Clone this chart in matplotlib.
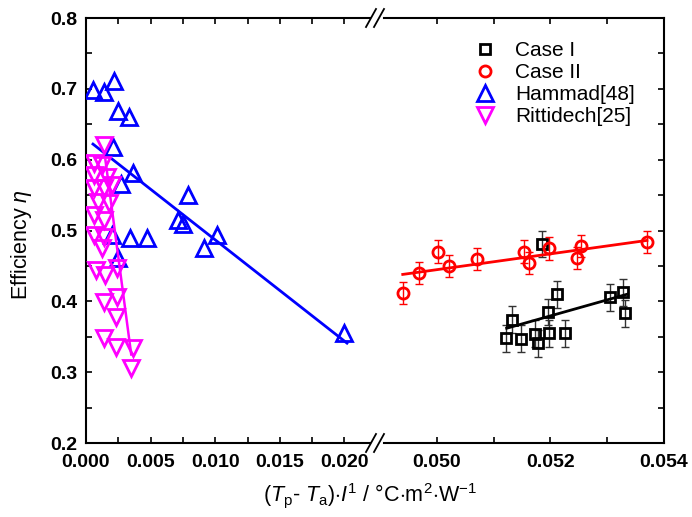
import matplotlib.pyplot as plt
from matplotlib.lines import Line2D

plt.rcParams["font.family"] = ["Liberation Sans", "DejaVu Sans"]
plt.rcParams["mathtext.fontset"] = "custom"
plt.rcParams["mathtext.rm"] = "Liberation Sans"
plt.rcParams["mathtext.it"] = "Liberation Sans:italic"

# Case I (black squares, right part)
case1_x = [0.05186, 0.05121, 0.05133, 0.05149, 0.05172, 0.05179, 0.05195,
           0.05198, 0.05212, 0.05226, 0.05305, 0.05328, 0.05332]
case1_y = [0.481, 0.348, 0.374, 0.347, 0.354, 0.341, 0.385,
           0.355, 0.410, 0.355, 0.406, 0.413, 0.383]
case1_err = [0.019] * len(case1_x)
case1_fit_x = [0.05123, 0.05335]
case1_fit_y = [0.362, 0.410]

# Case II (red circles, right part)
case2_x = [0.04940, 0.04968, 0.05002, 0.05021, 0.05070, 0.05154,
           0.05163, 0.05198, 0.05247, 0.05254, 0.05370]
case2_y = [0.412, 0.440, 0.470, 0.450, 0.460, 0.470,
           0.454, 0.475, 0.461, 0.478, 0.484]
case2_err = [0.016] * len(case2_x)
case2_fit_x = [0.0494, 0.0537]
case2_fit_y = [0.438, 0.486]

# Hammad[48] (blue up triangles, left part)
hammad_x = [0.00054, 0.0014, 0.0022, 0.0025, 0.0033, 0.0021, 0.0036, 0.0027,
            0.0079, 0.0071, 0.0075, 0.0101, 0.0091, 0.0034, 0.0047, 0.0020,
            0.0025, 0.0200]
hammad_y = [0.698, 0.696, 0.711, 0.669, 0.660, 0.618, 0.581, 0.566,
            0.550, 0.515, 0.509, 0.494, 0.475, 0.489, 0.489, 0.494,
            0.461, 0.355]
hammad_fit_x = [0.00054, 0.0202]
hammad_fit_y = [0.622, 0.341]

# Rittidech[25] (magenta down triangles, left part)
ritt_x = [0.0014, 0.0006, 0.0012, 0.0006, 0.0016, 0.0020, 0.0006, 0.0014,
          0.0009, 0.0018, 0.0006, 0.0014, 0.0006, 0.0014, 0.0012,
          0.0008, 0.0015, 0.0024, 0.0014, 0.0024, 0.0023, 0.0014, 0.0023,
          0.0036, 0.0035]
ritt_y = [0.621, 0.595, 0.592, 0.578, 0.575, 0.564, 0.560, 0.560,
          0.540, 0.539, 0.522, 0.515, 0.494, 0.491, 0.475,
          0.444, 0.437, 0.447, 0.399, 0.406, 0.378, 0.348, 0.335,
          0.334, 0.306]
ritt_fit_x = [0.0015, 0.0035]
ritt_fit_y = [0.600, 0.325]

W, H = 692, 517


def fx(px):
    return px / W


def fy(py):
    return 1 - py / H


fig = plt.figure(figsize=(6.92, 5.17), dpi=100)
ax1 = fig.add_axes([fx(86), fy(443), (370 - 86) / W, 425 / H])
ax2 = fig.add_axes([fx(384), fy(443), (664 - 384) / W, 425 / H])

mew = 2.0
ax1.plot(hammad_fit_x, hammad_fit_y, "-", color="#0000ff", lw=2, zorder=2)
h_ham, = ax1.plot(hammad_x, hammad_y, "^", ms=12, mfc="none", mec="#0000ff",
                  mew=mew, ls="none", zorder=3, label="Hammad[48]")
ax1.plot(ritt_fit_x, ritt_fit_y, "-", color="#ff00ff", lw=1.8, zorder=4)
h_rit, = ax1.plot(ritt_x, ritt_y, "v", ms=12, mfc="none", mec="#ff00ff",
                  mew=mew, ls="none", zorder=5, label="Rittidech[25]")

ax2.errorbar(case1_x, case1_y, yerr=case1_err, fmt="none", ecolor="#333333",
             elinewidth=1.0, capsize=3.2, capthick=1.0, zorder=2)
ax2.plot(case1_fit_x, case1_fit_y, "-", color="black", lw=2, zorder=3)
h_c1, = ax2.plot(case1_x, case1_y, "s", ms=7, mfc="none", mec="black",
                 mew=mew, ls="none", zorder=4, label="Case I")
ax2.errorbar(case2_x, case2_y, yerr=case2_err, fmt="none", ecolor="#ff0000",
             elinewidth=1.0, capsize=3.2, capthick=1.0, zorder=5)
ax2.plot(case2_fit_x, case2_fit_y, "-", color="#ff0000", lw=2, zorder=6)
h_c2, = ax2.plot(case2_x, case2_y, "o", ms=8, mfc="none", mec="#ff0000",
                 mew=mew, ls="none", zorder=7, label="Case II")

ax1.set_xlim(0, 0.02198)
ax2.set_xlim(0.04907, 0.054)
for ax in (ax1, ax2):
    ax.set_ylim(0.2, 0.8)
    ax.set_yticks([0.2, 0.3, 0.4, 0.5, 0.6, 0.7, 0.8])
    ax.set_yticks([0.25, 0.35, 0.45, 0.55, 0.65, 0.75], minor=True)
    ax.tick_params(which="both", direction="in", length=4, width=1.2,
                   top=True, labelsize=14)
    for s in ax.spines.values():
        s.set_linewidth(1.5)

ax1.set_xticks([0.0, 0.005, 0.010, 0.015, 0.020])
ax1.set_xticks([0.0025, 0.0075, 0.0125, 0.0175], minor=True)
ax1.set_xticklabels(["0.000", "0.005", "0.010", "0.015", "0.020"],
                    fontweight="bold")
ax1.set_yticklabels(["0.2", "0.3", "0.4", "0.5", "0.6", "0.7", "0.8"],
                    fontweight="bold")
ax1.spines["right"].set_visible(False)
ax1.tick_params(axis="y", which="both", right=False, pad=6)
ax1.tick_params(axis="x", which="both", pad=8)

ax2.set_xticks([0.050, 0.052, 0.054])
ax2.set_xticks([0.051, 0.053], minor=True)
ax2.set_xticklabels(["0.050", "0.052", "0.054"], fontweight="bold")
ax2.spines["left"].set_visible(False)
ax2.tick_params(axis="y", which="both", left=False, right=True,
                labelleft=False)
ax2.tick_params(axis="x", which="both", pad=8)

# axis break marks
for y0 in (18, 443):
    for x0 in (366, 374):
        fig.add_artist(Line2D([fx(x0), fx(x0 + 10)], [fy(y0 + 9), fy(y0 - 9)],
                              transform=fig.transFigure, color="black",
                              lw=1.3))

fig.text(fx(22), fy(245), r"Efficiency $\eta$", rotation=90,
         ha="center", va="center", fontsize=15.5)
fig.text(fx(370), fy(481),
         r"($\it{T}_\mathrm{p}$- $\it{T}_\mathrm{a}$)$\cdot\it{I}^\mathrm{1}$"
         r" / °C$\cdot$m$^\mathrm{2}$$\cdot$W$^\mathrm{-1}$",
         ha="center", va="top", fontsize=15.5)

fig.legend(handles=[h_c1, h_c2, h_ham, h_rit], loc="upper left",
           bbox_to_anchor=(fx(469), fy(41)), frameon=False, fontsize=15,
           handlelength=1.5, handletextpad=0.7, labelspacing=0.15,
           borderpad=0, borderaxespad=0)

fig.savefig("out.png", dpi=100)
